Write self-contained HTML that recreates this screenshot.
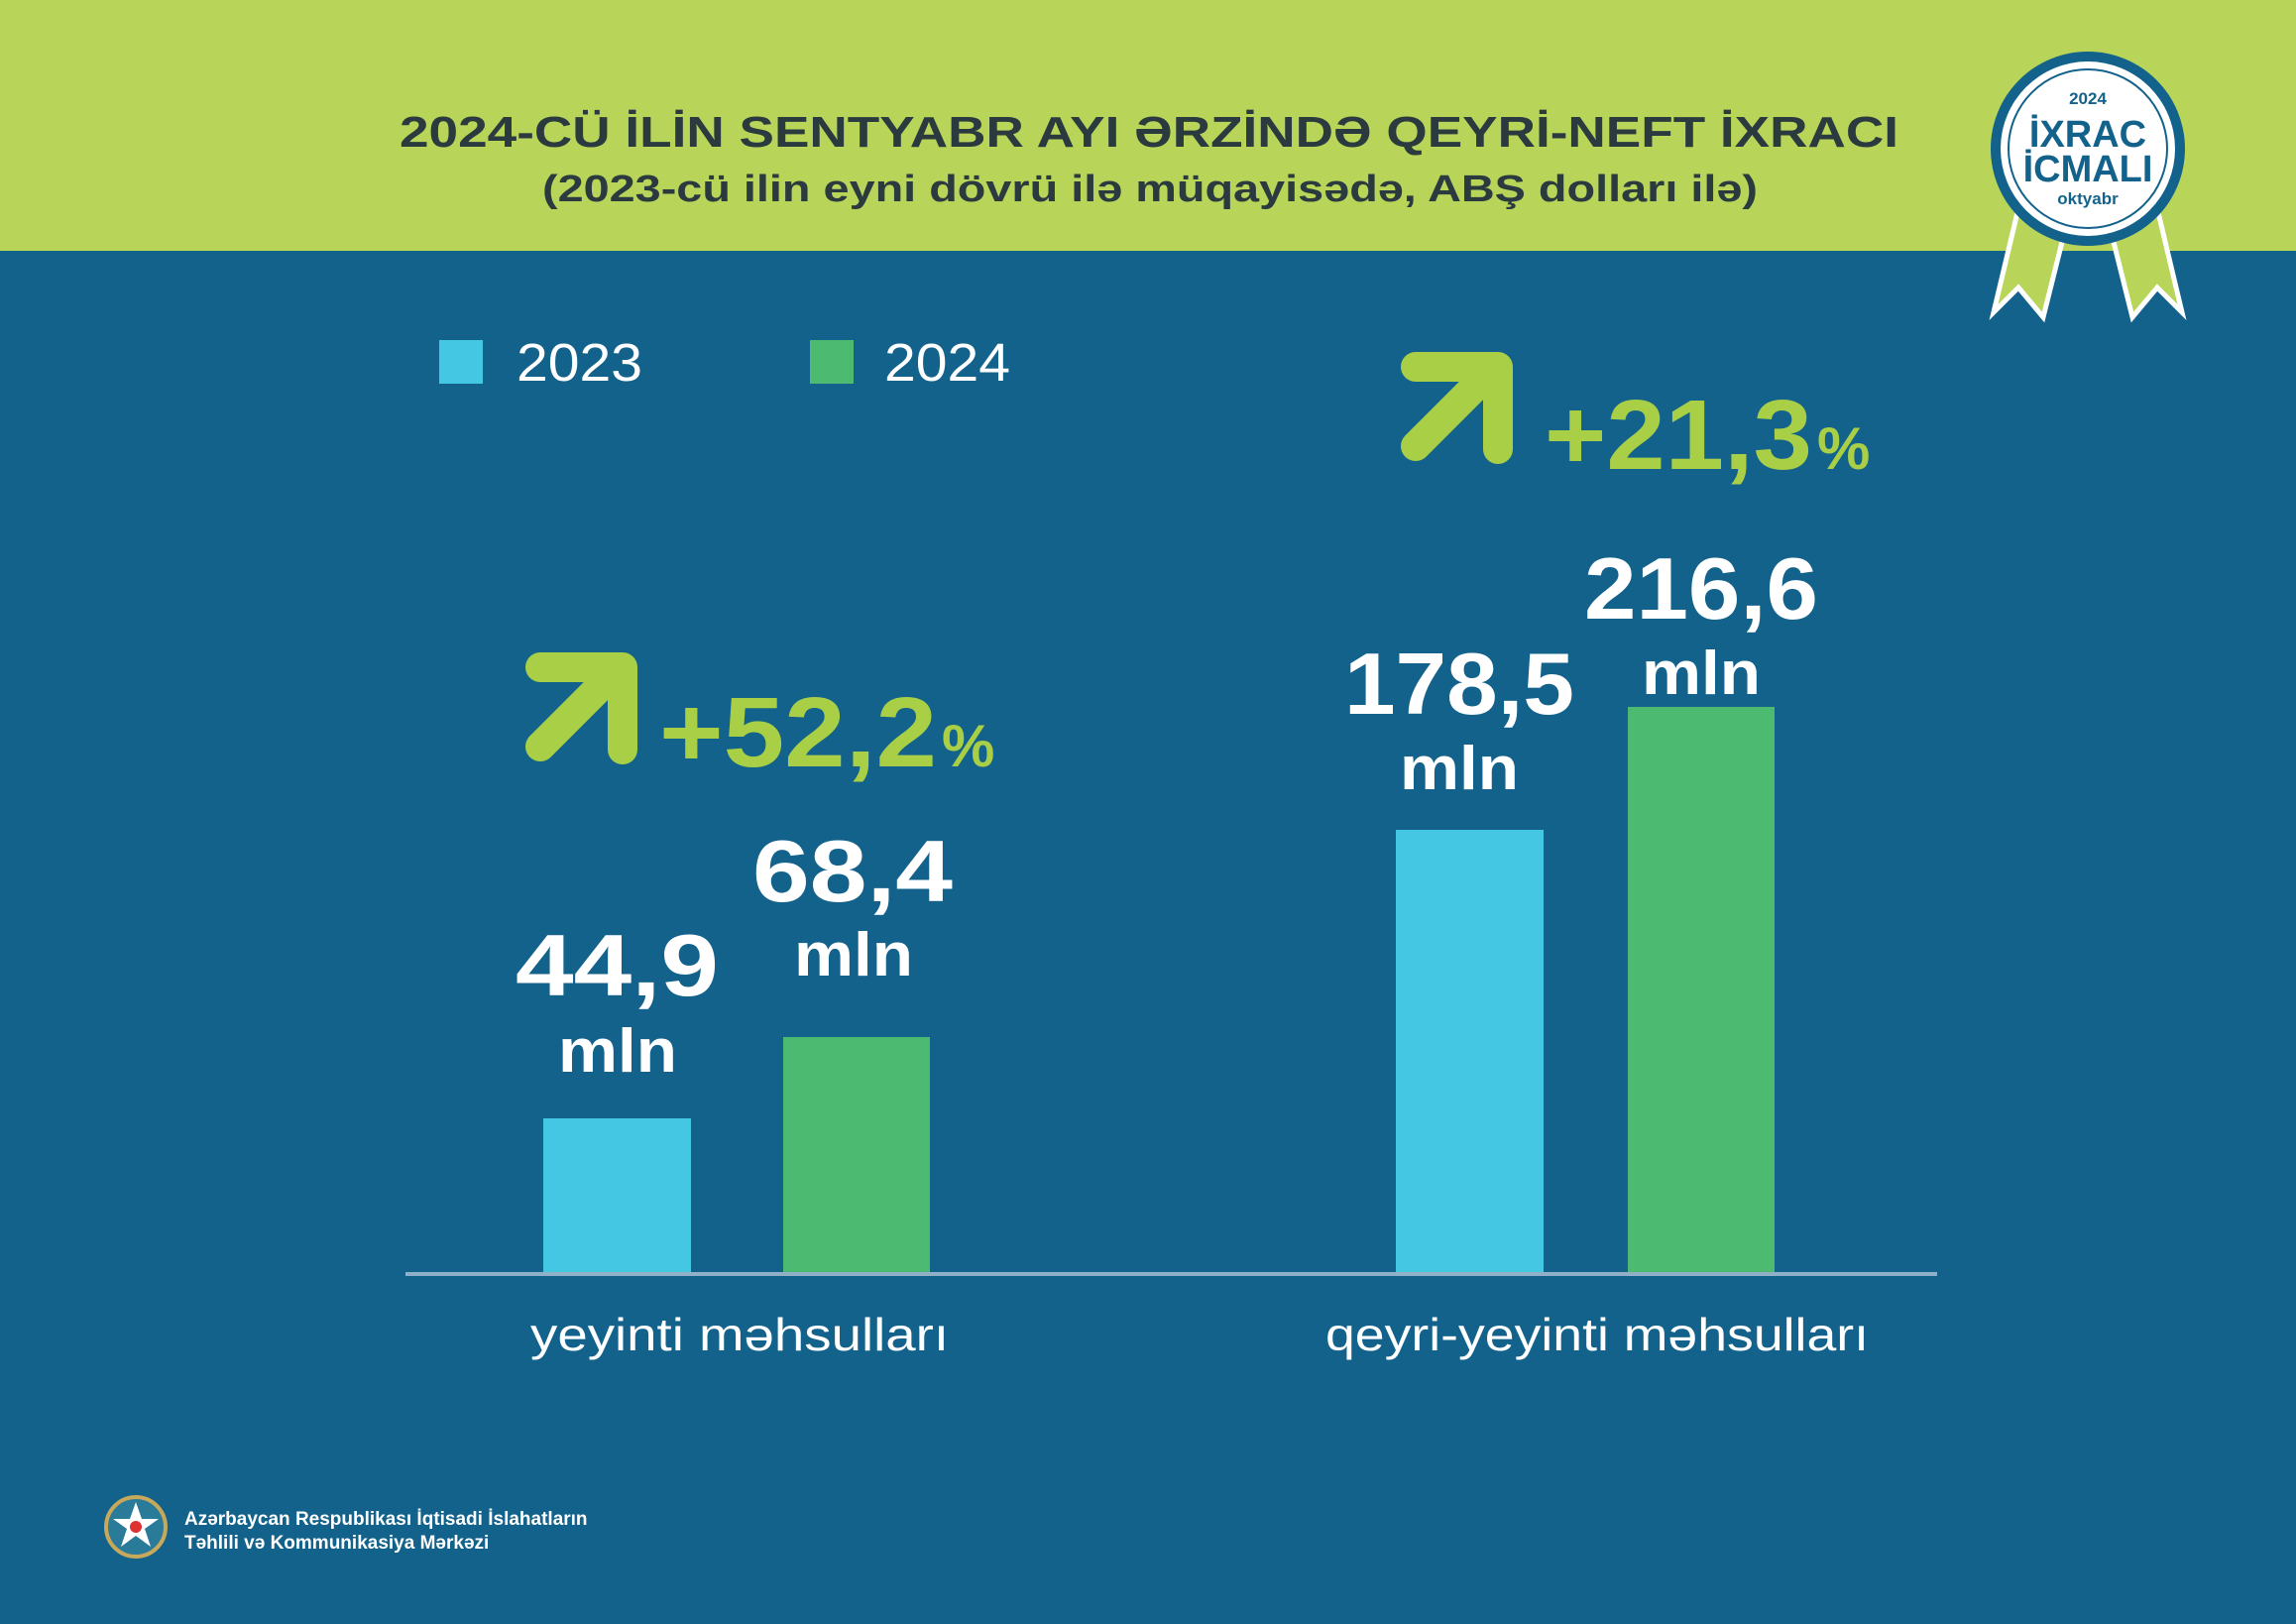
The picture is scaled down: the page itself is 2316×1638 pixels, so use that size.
<!DOCTYPE html>
<html><head><meta charset="utf-8"><style>
html,body{margin:0;padding:0;background:#13628c;}
svg{display:block}
text{font-family:"Liberation Sans","DejaVu Sans",sans-serif}
</style></head><body>
<svg width="2316" height="1638" viewBox="0 0 2316 1638" xmlns="http://www.w3.org/2000/svg">
<rect width="2316" height="1638" fill="#13628c"/>
<rect width="2316" height="253" fill="#b8d55a"/>
<text x="403" y="148" font-size="44" font-weight="bold" fill="#2b3a3f" textLength="1512" lengthAdjust="spacingAndGlyphs">2024-CÜ İLİN SENTYABR AYI ƏRZİNDƏ QEYRİ-NEFT İXRACI</text>
<text x="547" y="203" font-size="38" font-weight="bold" fill="#2b3a3f" textLength="1226" lengthAdjust="spacingAndGlyphs">(2023-cü ilin eyni dövrü ilə müqayisədə, ABŞ dolları ilə)</text>

<!-- badge -->
<g transform="translate(2106,150)">
<polygon points="-70,60 -95,165 -70,140 -45,170 -20,70" fill="#b8d55a" stroke="#fff" stroke-width="5"/>
<polygon points="20,70 45,170 70,140 95,165 70,60" fill="#b8d55a" stroke="#fff" stroke-width="5"/>
<circle r="98" fill="#13628c"/>
<circle r="88" fill="#fff"/>
<circle r="80" fill="none" stroke="#13628c" stroke-width="2"/>
<text y="-45" text-anchor="middle" font-size="17" font-weight="bold" fill="#13628c">2024</text>
<text y="-2" text-anchor="middle" font-size="38" font-weight="bold" fill="#13628c">İXRAC</text>
<text y="33" text-anchor="middle" font-size="38" font-weight="bold" fill="#13628c">İCMALI</text>
<text y="56" text-anchor="middle" font-size="17" font-weight="bold" fill="#13628c">oktyabr</text>
</g>

<!-- legend -->
<rect x="443" y="343" width="44" height="44" fill="#44c7e3"/>
<text x="521" y="384" font-size="54" fill="#fff" textLength="127" lengthAdjust="spacingAndGlyphs">2023</text>
<rect x="817" y="343" width="44" height="44" fill="#4dba72"/>
<text x="892" y="384" font-size="54" fill="#fff" textLength="127" lengthAdjust="spacingAndGlyphs">2024</text>

<!-- bars -->
<rect x="548" y="1128" width="149" height="157" fill="#44c7e3"/>
<rect x="790" y="1046" width="148" height="239" fill="#4dba72"/>
<rect x="1408" y="837" width="149" height="448" fill="#44c7e3"/>
<rect x="1642" y="713" width="148" height="572" fill="#4dba72"/>
<rect x="409" y="1283" width="1545" height="4" fill="#8fb0c6"/>

<text x="535" y="1362" font-size="46" fill="#fff" textLength="422" lengthAdjust="spacingAndGlyphs">yeyinti məhsulları</text>
<text x="1337" y="1362" font-size="46" fill="#fff" textLength="548" lengthAdjust="spacingAndGlyphs">qeyri-yeyinti məhsulları</text>

<g font-weight="bold" fill="#fff">
<text x="520" y="1004" font-size="88" textLength="205" lengthAdjust="spacingAndGlyphs">44,9</text>
<text x="563" y="1081" font-size="62" textLength="120" lengthAdjust="spacingAndGlyphs">mln</text>
<text x="759" y="909" font-size="88" textLength="202" lengthAdjust="spacingAndGlyphs">68,4</text>
<text x="801" y="984" font-size="62" textLength="120" lengthAdjust="spacingAndGlyphs">mln</text>
<text x="1356" y="720" font-size="88" textLength="232" lengthAdjust="spacingAndGlyphs">178,5</text>
<text x="1412" y="796" font-size="62" textLength="120" lengthAdjust="spacingAndGlyphs">mln</text>
<text x="1598" y="624" font-size="88" textLength="236" lengthAdjust="spacingAndGlyphs">216,6</text>
<text x="1656" y="700" font-size="62" textLength="120" lengthAdjust="spacingAndGlyphs">mln</text>
</g>

<!-- arrows -->
<g fill="none" stroke="#a8cf45" stroke-width="30" stroke-linecap="round" stroke-linejoin="round">
<path d="M545 753 L620 678"/><path d="M545 673 H628 V756"/>
<path d="M1428 450 L1503 375"/><path d="M1428 370 H1511 V453"/>
</g>
<g font-weight="bold" fill="#a8cf45">
<text x="665" y="773" font-size="100" textLength="280" lengthAdjust="spacingAndGlyphs">+52,2</text>
<text x="950" y="773" font-size="60">%</text>
<text x="1558" y="473" font-size="100" textLength="270" lengthAdjust="spacingAndGlyphs">+21,3</text>
<text x="1833" y="473" font-size="60">%</text>
</g>

<!-- footer -->
<circle cx="137" cy="1540" r="30" fill="#2a7a9a" stroke="#c8a85a" stroke-width="4"/>
<polygon points="137,1515 143,1532 160,1532 146,1542 152,1560 137,1549 122,1560 128,1542 114,1532 131,1532" fill="#fff"/>
<circle cx="137" cy="1540" r="6" fill="#d33"/>
<text x="186" y="1538" font-size="19" font-weight="bold" fill="#fff">Azərbaycan Respublikası İqtisadi İslahatların</text>
<text x="186" y="1562" font-size="19" font-weight="bold" fill="#fff">Təhlili və Kommunikasiya Mərkəzi</text>
</svg>
</body></html>
